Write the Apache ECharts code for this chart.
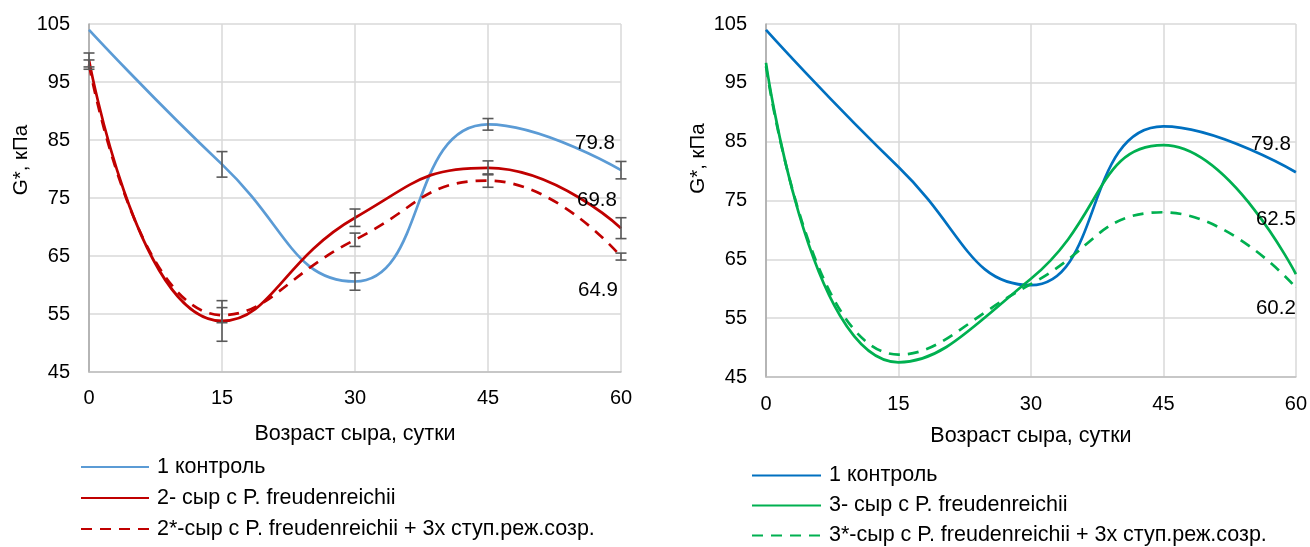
<!DOCTYPE html>
<html>
<head>
<meta charset="utf-8">
<script src="https://cdn.jsdelivr.net/npm/echarts@6/dist/echarts.min.js"></script>
<style>
html,body{margin:0;padding:0;background:#fff;}
#chart{width:1310px;height:547px;}
</style>
</head>
<body>
<div id="chart"></div>
<script>
// ---- data ----
var days = [0, 15, 30, 45, 60];
var xTicks = ['0', '15', '30', '45', '60'];

// left chart
var control1 = [104.0, 80.8, 60.6, 87.7, 79.8];
var cheese2 = [98.8, 53.8, 71.6, 80.2, 69.8];
var cheese2s = [98.0, 54.8, 67.8, 78.0, 64.9];
var errControl1 = [0, 2.2, 1.5, 1.0, 1.5];
var errCheese2 = [1.2, 3.5, 1.5, 1.2, 1.8];
var errCheese2s = [0.8, 1.3, 1.15, 1.15, 0.6];

// right chart
var control1b = [104.0, 80.7, 60.6, 87.6, 79.8];
var cheese3 = [98.4, 47.5, 61.7, 84.4, 62.5];
var cheese3s = [97.8, 48.8, 60.8, 73.0, 60.2];

var seriesNames = {
  L1: '1 контроль',
  L2: '2- сыр с P. freudenreichii',
  L3: '2*-сыр с P. freudenreichii + 3х ступ.реж.созр.',
  R1: '1 контроль',
  R2: '3- сыр с P. freudenreichii',
  R3: '3*-сыр с P. freudenreichii + 3х ступ.реж.созр.'
};
var xName = 'Возраст сыра, сутки';
var yName = 'G*, кПа';

// ---- helpers ----
var FONT = 'Liberation Sans, Arial, sans-serif';
var SMOOTH = 0.5;

function pairs(vals, labelOffset) {
  return days.map(function (d, i) {
    if (i === days.length - 1 && labelOffset) {
      return {
        value: [d, vals[i]],
        label: {
          show: true, position: 'inside', offset: labelOffset,
          formatter: function (p) { return p.value[1].toFixed(1); },
          fontSize: 20.5, color: '#000', fontFamily: FONT
        }
      };
    }
    return [d, vals[i]];
  });
}
function errData(vals, errs) {
  var out = [];
  days.forEach(function (d, i) {
    if (errs[i] > 0) out.push([d, vals[i] - errs[i], vals[i] + errs[i]]);
  });
  return out;
}
function errRender(params, api) {
  var x = api.value(0), lo = api.value(1), hi = api.value(2);
  var p1 = api.coord([x, hi]), p2 = api.coord([x, lo]);
  var w = 5.5;
  var st = { stroke: '#595959', lineWidth: 1.6 };
  return {
    type: 'group',
    children: [
      { type: 'line', shape: { x1: p1[0], y1: p1[1], x2: p2[0], y2: p2[1] }, style: st },
      { type: 'line', shape: { x1: p1[0] - w, y1: p1[1], x2: p1[0] + w, y2: p1[1] }, style: st },
      { type: 'line', shape: { x1: p2[0] - w, y1: p2[1], x2: p2[0] + w, y2: p2[1] }, style: st }
    ]
  };
}
function lineSeries(id, vals, color, dashed, gi, labelOffset) {
  return {
    name: id, type: 'line', xAxisIndex: gi, yAxisIndex: gi,
    data: pairs(vals, labelOffset), smooth: SMOOTH,
    symbol: 'circle', symbolSize: 0.5, showSymbol: true,
    lineStyle: { color: color, width: 2.7, type: dashed ? [11, 8] : 'solid' },
    itemStyle: { color: color },
    z: 2
  };
}
function errSeries(vals, errs, gi) {
  return {
    type: 'custom', xAxisIndex: gi, yAxisIndex: gi,
    renderItem: errRender, data: errData(vals, errs),
    encode: { x: 0, y: [1, 2] }, z: 5, silent: true
  };
}
function xAxis(gi, nameGap, labelMargin) {
  return {
    type: 'value', gridIndex: gi, min: 0, max: 60, interval: 15,
    name: xName, nameLocation: 'middle', nameGap: nameGap,
    nameTextStyle: { fontSize: 21.5, color: '#000', fontFamily: FONT },
    axisLine: { show: true, lineStyle: { color: '#BFBFBF', width: 1.5 } },
    axisTick: { show: false },
    axisLabel: { fontSize: 20, color: '#000', margin: labelMargin, fontFamily: FONT,
      formatter: function (v) { return xTicks[days.indexOf(v)]; } },
    splitLine: { show: true, lineStyle: { color: '#D9D9D9', width: 1.5 } }
  };
}
function yAxis(gi, pad) {
  return {
    type: 'value', gridIndex: gi, min: 45, max: 105, interval: 10,
    name: yName, nameLocation: 'middle', nameGap: 57, nameRotate: 90,
    nameTextStyle: { fontSize: 20.5, color: '#000', fontFamily: FONT, padding: [0, 0, 0, pad] },
    axisLine: { show: true, lineStyle: { color: '#A6A6A6', width: 1.5 } },
    axisTick: { show: false },
    axisLabel: { fontSize: 20, color: '#000', margin: 19, fontFamily: FONT },
    splitLine: { show: true, lineStyle: { color: '#D9D9D9', width: 1.5 } }
  };
}
function legend(left, top, names, gap, itemW, fs) {
  return {
    orient: 'vertical', left: left, top: top, height: 160, width: 600, data: names,
    padding: 0, itemWidth: itemW, itemHeight: 14, itemGap: gap,
    itemStyle: { opacity: 0 },
    formatter: function (n) { return seriesNames[n]; },
    textStyle: { fontSize: fs, color: '#000', fontFamily: FONT, lineHeight: 22, padding: [0, 0, 0, 3] },
    selectedMode: false
  };
}

var chart = echarts.init(document.getElementById('chart'), null, { renderer: 'canvas' });
chart.setOption({
  animation: false,
  backgroundColor: '#fff',
  grid: [
    { left: 89, right: 689, top: 24, bottom: 175 },
    { left: 766, right: 14, top: 24, bottom: 170 }
  ],
  xAxis: [xAxis(0, 51, 16), xAxis(1, 48, 17)],
  yAxis: [yAxis(0, 76), yAxis(1, 84)],
  legend: [
    legend(80, 456, ['L1', 'L2', 'L3'], 9, 68, 21.5),
    legend(751, 464.5, ['R1', 'R2', 'R3'], 8, 69, 21.5)
  ],
  series: [
    lineSeries('L1', control1, '#5B9BD5', false, 0, [-26, -27]),
    lineSeries('L2', cheese2, '#C00000', false, 0, [-24, -28]),
    lineSeries('L3', cheese2s, '#C00000', true, 0, [-23, 34]),
    errSeries(control1, errControl1, 0),
    errSeries(cheese2, errCheese2, 0),
    errSeries(cheese2s, errCheese2s, 0),
    lineSeries('R1', control1b, '#0070C0', false, 1, [-25, -28]),
    lineSeries('R2', cheese3, '#00B050', false, 1, [-20, -55]),
    lineSeries('R3', cheese3s, '#00B050', true, 1, [-20, 21])
  ]
});
</script>
</body>
</html>
